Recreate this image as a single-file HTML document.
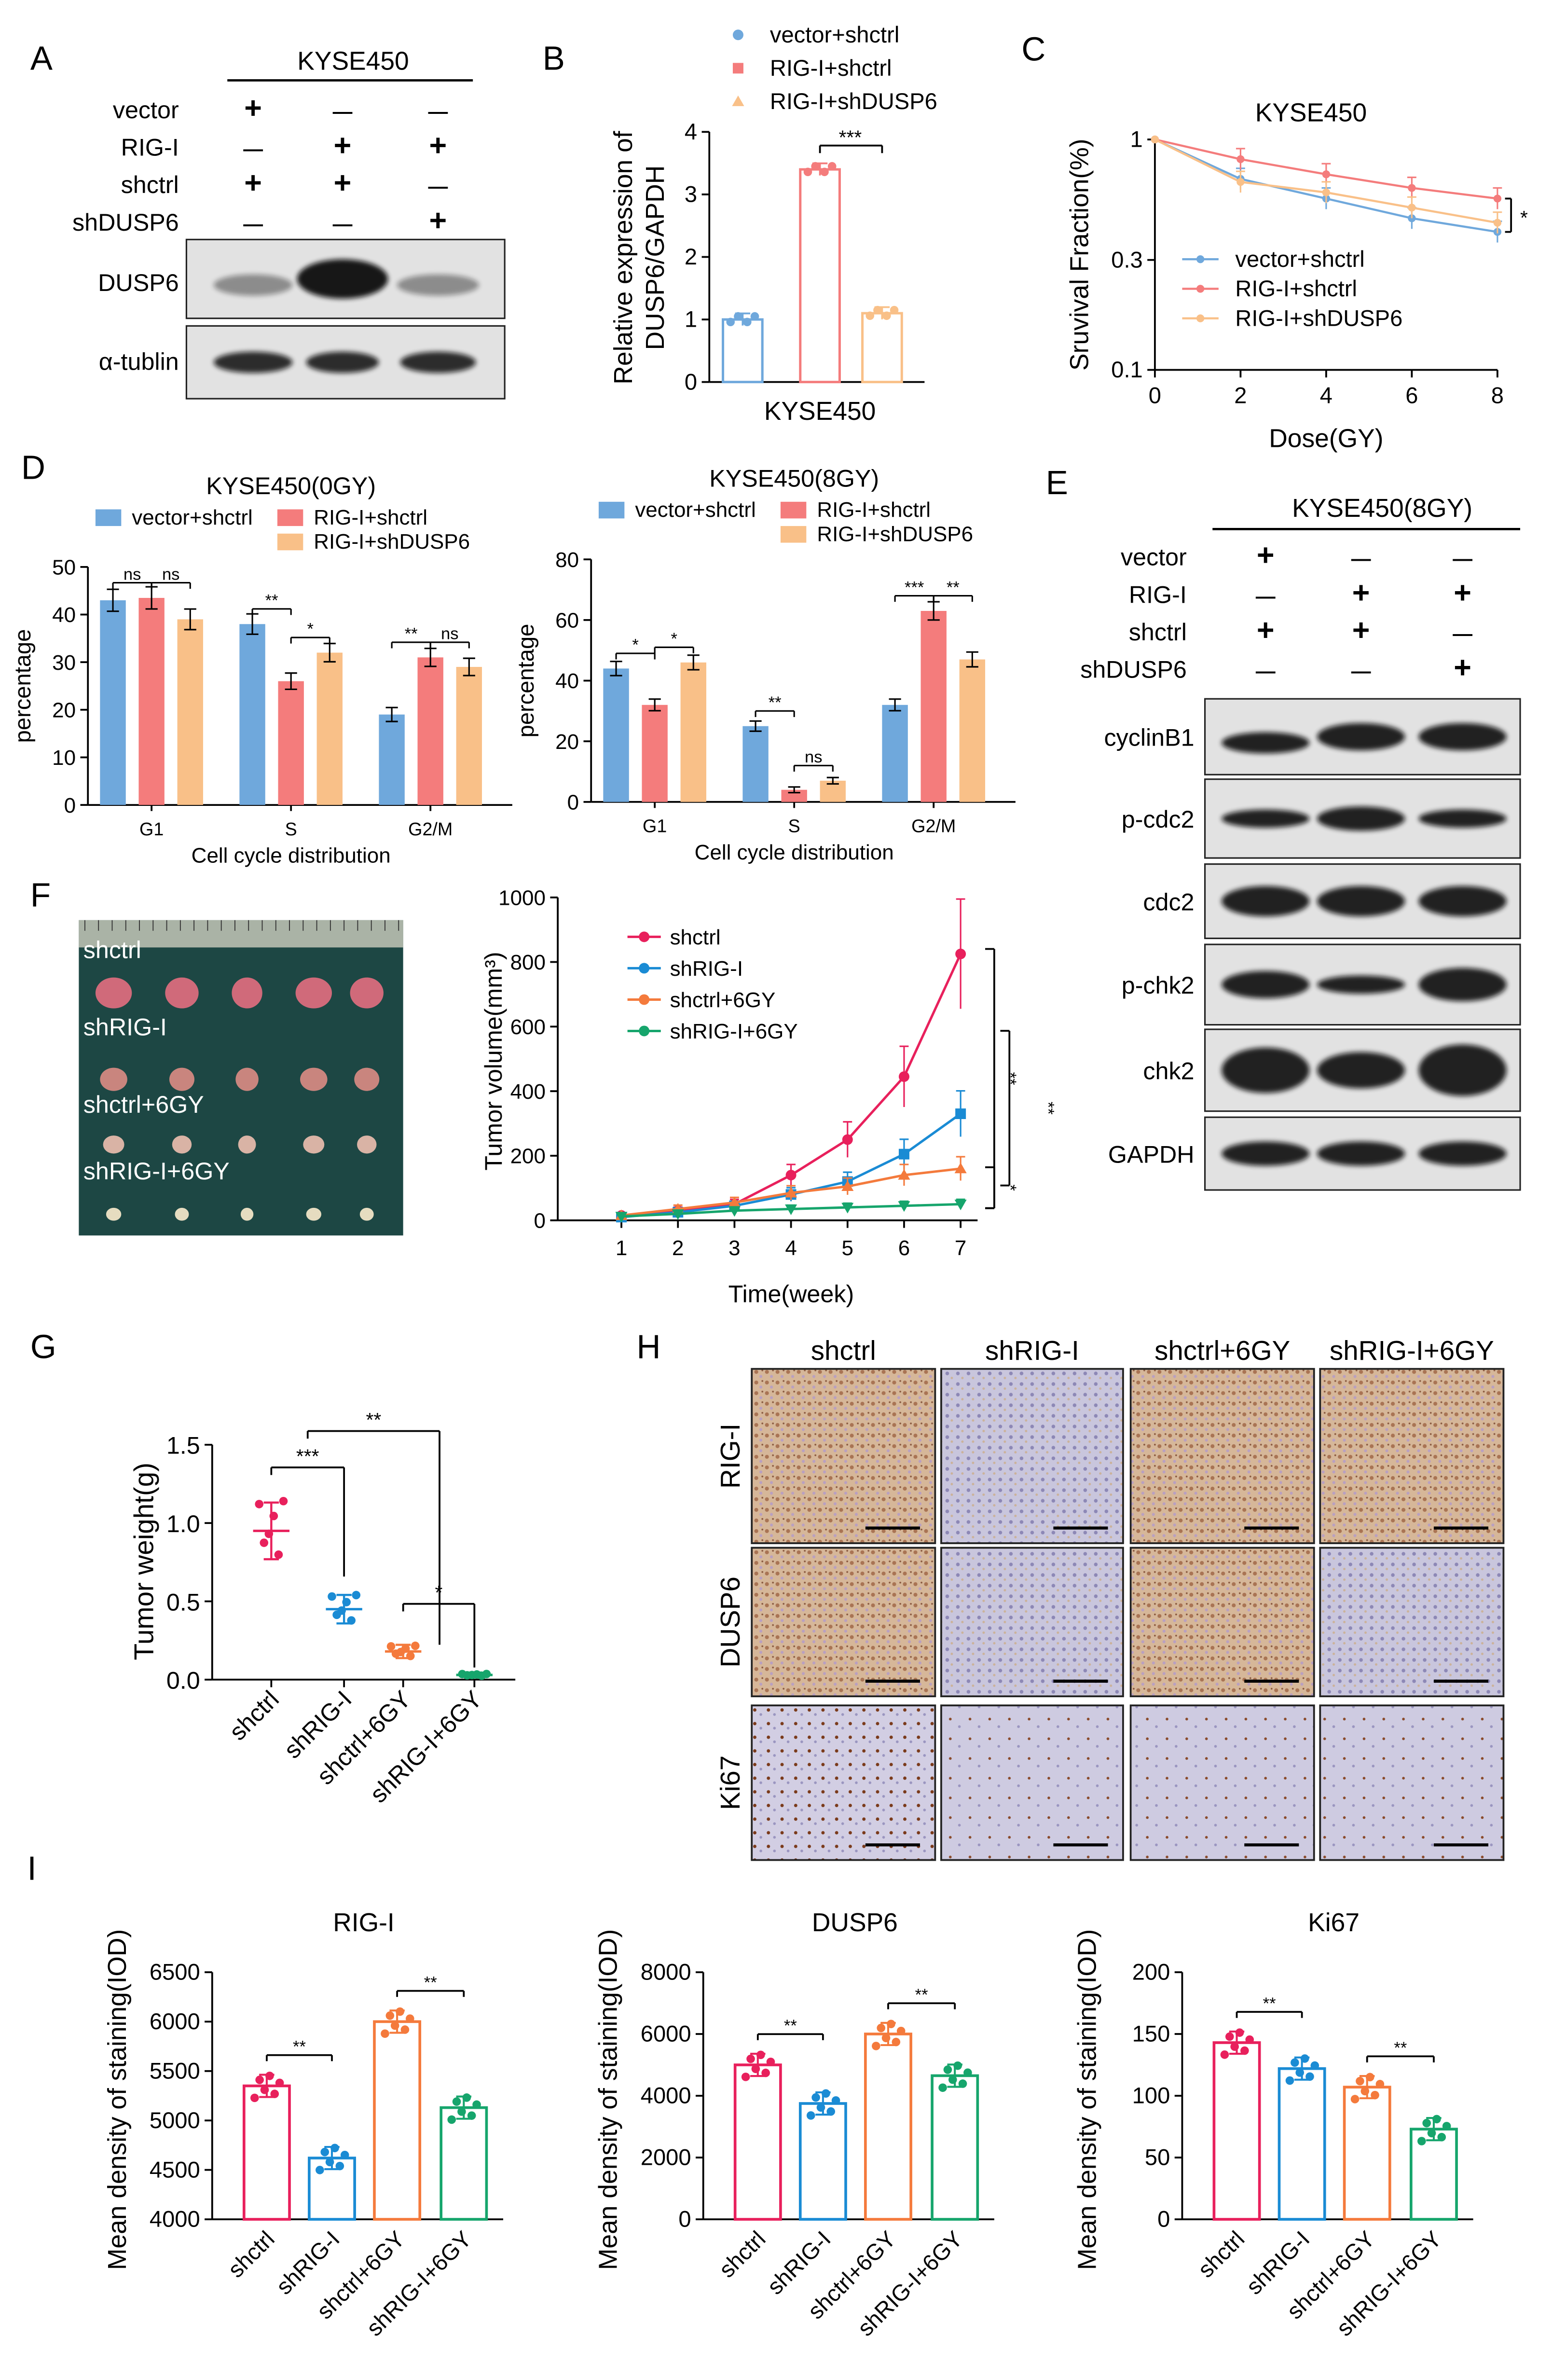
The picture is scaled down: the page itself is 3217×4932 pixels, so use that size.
<!DOCTYPE html>
<html><head><meta charset="utf-8">
<style>
html,body{margin:0;padding:0;background:#fff;}
svg{display:block;font-family:"Liberation Sans",Arial,sans-serif;}
</style></head>
<body>
<svg id="fig" width="3217" height="4932" viewBox="0 0 1024 1570" preserveAspectRatio="none" xmlns="http://www.w3.org/2000/svg">
<defs>
<filter id="soft" x="-20%" y="-50%" width="140%" height="200%"><feGaussianBlur stdDeviation="1.6"/></filter>
<pattern id="tissueBrown" width="7" height="7" patternUnits="userSpaceOnUse"><rect width="7" height="7" fill="#d6b799"/><circle cx="2" cy="2" r="1.3" fill="#a97454"/><circle cx="5" cy="5" r="1" fill="#b9a0c0"/><circle cx="6" cy="1" r="0.6" fill="#8a5a40"/></pattern>
<pattern id="tissueBlue" width="7" height="7" patternUnits="userSpaceOnUse"><rect width="7" height="7" fill="#c9c6dd"/><circle cx="2" cy="3" r="1.2" fill="#8d88b6"/><circle cx="5" cy="6" r="0.8" fill="#cbb29a"/></pattern>
<pattern id="tissueKi" width="9" height="9" patternUnits="userSpaceOnUse"><rect width="9" height="9" fill="#d2cee3"/><circle cx="3" cy="3" r="1.1" fill="#7a3a1a"/><circle cx="7" cy="6" r="0.9" fill="#9a95c0"/></pattern>
<pattern id="tissueKiLow" width="13" height="13" patternUnits="userSpaceOnUse"><rect width="13" height="13" fill="#cecbe1"/><circle cx="3" cy="3" r="0.9" fill="#8a4a2a"/><circle cx="9" cy="8" r="0.9" fill="#9a95c0"/></pattern>
</defs>
<g id="root"></g>
</svg>
<script>
const NS='http://www.w3.org/2000/svg';
const root=document.getElementById('root');
function el(tag,attrs,parent){const e=document.createElementNS(NS,tag);for(const k in attrs)e.setAttribute(k,attrs[k]);(parent||root).appendChild(e);return e;}
function tx(x,y,s,size,anchor,extra){const e=el('text',Object.assign({x:x,y:y,'font-size':size,'text-anchor':anchor||'start',fill:'#000'},extra||{}));e.textContent=s;return e;}
function ln(x1,y1,x2,y2,c,w){return el('line',{x1,y1,x2,y2,stroke:c||'#000','stroke-width':w||1.2});}

/* ---------- DATA ---------- */
const bCats=['vector+shctrl','RIG-I+shctrl','RIG-I+shDUSP6'];
const bVals=[1.0,3.4,1.1];
const cDoses=[0,2,4,6,8];
const cVector=[1,0.674,0.554,0.455,0.397];
const cRig=[1,0.821,0.706,0.616,0.554];
const cShd=[1,0.654,0.589,0.506,0.435];
const dPhases=['G1','S','G2/M'];
const d0Vector=[43,38,19];
const d0Rig=[43.5,26,31];
const d0Shd=[39,32,29];
const d8Vector=[44,25,32];
const d8Rig=[32,4,63];
const d8Shd=[46,7,47];
const fWeeks=[1,2,3,4,5,6,7];
const fShctrl=[15,30,50,140,250,445,825];
const fShrig=[10,25,45,80,120,205,330];
const fShctrl6=[15,35,55,85,105,140,160];
const fShrig6=[12,20,30,35,40,45,50];
const gGroups=['shctrl','shRIG-I','shctrl+6GY','shRIG-I+6GY'];
const gWeights=[0.95,0.45,0.18,0.03];
const iRig=[5350,4620,6000,5130];
const iDusp=[5000,3750,6000,4650];
const iKi=[143,122,107,73];
const C3=['#6fa8dc','#f47c7c','#f9c088'];
const C4=['#e8205c','#1a8bd4','#f47a3c','#16a56c'];

/* ---------- PANEL A ---------- */
let t;
t=tx(20,46,'A',22);
t=tx(233,46,'KYSE450',17,'middle');
ln(150,53,312,53,'#000',1.5);
const aRows=['vector','RIG-I','shctrl','shDUSP6'];
const aSigns=[['+','—','—'],['—','+','+'],['+','+','—'],['—','—','+']];
const aCols=[167,226,289];
aRows.forEach((r,i)=>{const y=78+i*24.7;t=tx(118,y,r,16,'end');
 aSigns[i].forEach((s,j)=>{t=tx(aCols[j],y,s,s==='+'?20:13,'middle',{'font-weight':'bold'});});});
function blot(x,y,w,h,name,bands){const g=el('g',{});
 el('rect',{x,y,width:w,height:h,fill:'#e2e2e2',stroke:'#222','stroke-width':1},g);
 bands.forEach(b=>{el('ellipse',{cx:b[0],cy:y+h/2+(b[3]||0),rx:b[1],ry:b[2],fill:'#111',opacity:b[4]||0.85,filter:'url(#soft)'},g);});return g;}
t=tx(118,192,'DUSP6',16,'end');
blot(123,158,210,52,'a-dusp6-blot',[[167,26,7,4,0.4],[226,30,13,0,0.95],[289,27,7,4,0.4]]);
t=tx(118,244,'α-tublin',16,'end');
blot(123,215,210,48,'a-tublin-blot',[[167,26,7],[226,24,7],[289,25,7]]);

/* ---------- PANEL B ---------- */
t=tx(358,46,'B',22);
bCats.forEach((c,i)=>{const y=23+i*22;
 if(i===0){const m=el('circle',{cx:487,cy:y,r:3.5,fill:C3[i]});}
 else if(i===1){const m=el('rect',{x:483.5,y:y-3.5,width:7,height:7,fill:C3[i]});}
 else{const m=el('polygon',{points:`487,${y-4} 491,${y+3} 483,${y+3}`,fill:C3[i]});}
 t=tx(508,y+5,c,15);});
const bY=v=>252-41.25*v, bX=[490,541,582];
ln(468,87,468,252);ln(468,252,610,252);
[0,1,2,3,4].forEach(v=>{ln(463,bY(v),468,bY(v));t=tx(460,bY(v)+5,String(v),15,'end');});
bVals.forEach((v,i)=>{const r=el('rect',{x:bX[i]-13,y:bY(v),width:26,height:252-bY(v),fill:'none',stroke:C3[i],'stroke-width':1.6});
 ln(bX[i],bY(v)-4,bX[i],bY(v)+4,C3[i],1.2);ln(bX[i]-5,bY(v)-4,bX[i]+5,bY(v)-4,C3[i]);
 [-8,-3,3,8].forEach((o,k)=>{el('circle',{cx:bX[i]+o,cy:bY(v+(k%2?0.05:-0.04)),r:2.8,fill:C3[i]});});});
ln(541,96,582,96);ln(541,96,541,101);ln(582,96,582,101);
t=tx(561,95,'***',13,'middle');
t=tx(541,277,'KYSE450',17,'middle');
t=tx(0,0,'Relative expression of',17,'middle',{transform:'translate(417,170) rotate(-90)'});
t=tx(0,0,'DUSP6/GAPDH',17,'middle',{transform:'translate(438,170) rotate(-90)'});

/* ---------- PANEL C ---------- */
t=tx(674,40,'C',22);
t=tx(865,80,'KYSE450',17,'middle');
const cX=d=>762+28.25*d, cY=v=>92-152*Math.log10(v);
ln(762,92,762,244);ln(762,244,988,244);
[[1,'1'],[0.3,'0.3'],[0.1,'0.1']].forEach(p=>{ln(757,cY(p[0]),762,cY(p[0]));t=tx(754,cY(p[0])+5,p[1],15,'end');});
cDoses.forEach(d=>{ln(cX(d),244,cX(d),249);t=tx(cX(d),266,String(d),15,'middle');});
[[cVector,C3[0],'vector+shctrl'],[cRig,C3[1],'RIG-I+shctrl'],[cShd,C3[2],'RIG-I+shDUSP6']].forEach((s,si)=>{
 const p=el('polyline',{points:s[0].map((v,i)=>cX(cDoses[i])+','+cY(v)).join(' '),fill:'none',stroke:s[1],'stroke-width':1.4});
 s[0].forEach((v,i)=>{if(i>0){ln(cX(cDoses[i]),cY(v)-7,cX(cDoses[i]),cY(v)+7,s[1],1);ln(cX(cDoses[i])-3,cY(v)-7,cX(cDoses[i])+3,cY(v)-7,s[1],1);}
  el('circle',{cx:cX(cDoses[i]),cy:cY(v),r:2.6,fill:s[1]});});
 const ly=171+si*19.5;ln(780,ly,804,ly,s[1],1.4);el('circle',{cx:792,cy:ly,r:2.6,fill:s[1]});
 t=tx(815,ly+5,s[2],15);});
ln(993,cY(0.554),997,cY(0.554));ln(997,cY(0.554),997,cY(0.397));ln(993,cY(0.397),997,cY(0.397));
tx(1003,148,'*',13);
t=tx(875,295,'Dose(GY)',17,'middle');
t=tx(0,0,'Sruvival Fraction(%)',17,'middle',{transform:'translate(718,168) rotate(-90)'});

/* ---------- PANEL D ---------- */
t=tx(14,316,'D',22);
function cellChart(ax,ytop,ybot,maxV,step,gx,vals,title,tag,sig){
 const Y=v=>ybot-(ybot-ytop)*v/maxV;
 t=tx(gx[1],ytop-48,title,16,'middle');
 const lx=[ax+5,ax+125,ax+125],lyy=[ytop-30,ytop-30,ytop-14];
 bCats.forEach((c,i)=>{const r=el('rect',{x:lx[i],y:lyy[i]-8,width:17,height:11,fill:C3[i]});
  t=tx(lx[i]+24,lyy[i]+2,c,14);});
 ln(ax,ytop,ax,ybot);ln(ax,ybot,ax+280,ybot);
 for(let v=0;v<=maxV;v+=step){ln(ax-5,Y(v),ax,Y(v));t=tx(ax-8,Y(v)+5,String(v),14,'end');}
 dPhases.forEach((p,g)=>{ln(gx[g],ybot,gx[g],ybot+4);t=tx(gx[g],ybot+20,p,12,'middle');
  vals.forEach((arr,s)=>{const cx=gx[g]+(s-1)*25.5;const r=el('rect',{x:cx-8.5,y:Y(arr[g]),width:17,height:ybot-Y(arr[g]),fill:C3[s]});
   const e=arr[g]*0.035+0.8;ln(cx,Y(arr[g]+e),cx,Y(Math.max(arr[g]-e,0)),'#000',1);ln(cx-4,Y(arr[g]+e),cx+4,Y(arr[g]+e),'#000',1);ln(cx-4,Y(Math.max(arr[g]-e,0)),cx+4,Y(Math.max(arr[g]-e,0)),'#000',1);});
  const y1=Y(Math.max(vals[0][g],vals[1][g]))-10, y2=Y(Math.max(vals[1][g],vals[2][g]))-10;
  [[gx[g]-25.5,gx[g],y1,sig[g][0]],[gx[g],gx[g]+25.5,y2,sig[g][1]]].forEach(b=>{ln(b[0],b[2],b[1],b[2],'#000',1);ln(b[0],b[2],b[0],b[2]+4,'#000',1);ln(b[1],b[2],b[1],b[2]+4,'#000',1);
   t=tx((b[0]+b[1])/2,b[2]-2,b[3],11,'middle');});});
 t=tx(gx[1],ybot+38,'Cell cycle distribution',14,'middle');
 t=tx(0,0,'percentage',15,'middle',{transform:`translate(${ax-38},${(ytop+ybot)/2}) rotate(-90)`});
}
cellChart(58,374,531,50,10,[100,192,284],[d0Vector,d0Rig,d0Shd],'KYSE450(0GY)','d0',[['ns','ns'],['**','*'],['**','ns']]);
cellChart(390,369,529,80,20,[432,524,616],[d8Vector,d8Rig,d8Shd],'KYSE450(8GY)','d8',[['*','*'],['**','ns'],['***','**']]);

/* ---------- PANEL E ---------- */
t=tx(690,326,'E',22);
t=tx(912,341,'KYSE450(8GY)',17,'middle');
ln(800,349,1003,349,'#000',1.5);
const eCols=[835,898,965];
aRows.forEach((r,i)=>{const y=373+i*24.7;t=tx(783,y,r,16,'end');
 aSigns[i].forEach((s,j)=>{t=tx(eCols[j],y,s,s==='+'?20:13,'middle',{'font-weight':'bold'});});});
const eBlots=[['cyclinB1',461,50,[7,9,9],[4,0,0]],['p-cdc2',514,52,[6,8,6]],['cdc2',570,49,[10,10,10]],['p-chk2',623,53,[9,6,11]],['chk2',679,54,[15,12,17]],['GAPDH',737,48,[8,8,8]]];
eBlots.forEach(b=>{t=tx(788,b[1]+b[2]/2+6,b[0],16,'end');
 blot(795,b[1],208,b[2],'e-'+b[0].toLowerCase()+'-blot',eCols.map((c,j)=>[c,29,b[3][j],(b[4]||[0,0,0])[j],0.9]));});

/* ---------- PANEL F ---------- */
t=tx(20,598,'F',22);
const photo=el('g',{});
el('rect',{x:52,y:607,width:214,height:208,fill:'#1d4744'},photo);
el('rect',{x:52,y:607,width:214,height:18,fill:'#aab3a6'},photo);
for(let i=0;i<24;i++)el('line',{x1:56+i*9,y1:607,x2:56+i*9,y2:614,stroke:'#333','stroke-width':0.6},photo);
const tumorRows=[[655,12,'#d06a7a'],[712,9,'#c9857e'],[755,7,'#d9b3a5'],[801,5,'#e6dcc0']];
const tumorX=[75,118,163,205,242];
tumorRows.forEach((r,i)=>tumorX.forEach((x,j)=>{el('ellipse',{cx:x+(j%2)*2,cy:r[0],rx:r[1]*(1-0.08*(j%3)),ry:r[1]*0.85,fill:r[2]},photo);}));
[['shctrl',55,632],['shRIG-I',55,683],['shctrl+6GY',55,734],['shRIG-I+6GY',55,778]].forEach(l=>{t=tx(l[1],l[2],l[0],16,'start',{fill:'#fff'});});

const fX=w=>410+37.3*(w-1), fY=v=>805-0.213*v;
ln(368,592,368,805);ln(368,805,645,805);
[0,200,400,600,800,1000].forEach(v=>{ln(363,fY(v),368,fY(v));t=tx(360,fY(v)+5,String(v),14,'end');});
fWeeks.forEach(w=>{ln(fX(w),805,fX(w),810);t=tx(fX(w),828,String(w),14,'middle');});
const fSeries=[[fShctrl,'shctrl'],[fShrig,'shRIG-I'],[fShctrl6,'shctrl+6GY'],[fShrig6,'shRIG-I+6GY']];
fSeries.forEach((s,si)=>{const c=C4[si];
 const p=el('polyline',{points:s[0].map((v,i)=>fX(fWeeks[i])+','+fY(v)).join(' '),fill:'none',stroke:c,'stroke-width':1.6});
 s[0].forEach((v,i)=>{const e=v*0.2+5;ln(fX(fWeeks[i]),fY(v+e),fX(fWeeks[i]),fY(Math.max(v-e,0)),c,1);ln(fX(fWeeks[i])-3,fY(v+e),fX(fWeeks[i])+3,fY(v+e),c,1);
  const m=si===0?el('circle',{cx:fX(fWeeks[i]),cy:fY(v),r:3.5,fill:c}):si===1?el('rect',{x:fX(fWeeks[i])-3.5,y:fY(v)-3.5,width:7,height:7,fill:c}):si===2?el('polygon',{points:`${fX(fWeeks[i])},${fY(v)-4} ${fX(fWeeks[i])+4},${fY(v)+3} ${fX(fWeeks[i])-4},${fY(v)+3}`,fill:c}):el('polygon',{points:`${fX(fWeeks[i])},${fY(v)+4} ${fX(fWeeks[i])+4},${fY(v)-3} ${fX(fWeeks[i])-4},${fY(v)-3}`,fill:c});
  });
 const ly=618+si*20.7;ln(414,ly,436,ly,c,1.6);el('circle',{cx:425,cy:ly,r:3.5,fill:c});
 t=tx(442,ly+5,s[1],14);});
[[650,626,797,'**',659],[660,680,782,'**',684],[650,770,797,'*',659]].forEach(b=>{ln(b[0],b[1],b[0]+6,b[1]);ln(b[0]+6,b[1],b[0]+6,b[2]);ln(b[0],b[2],b[0]+6,b[2]);
 t=tx(b[4]+4,(b[1]+b[2])/2,b[3],11,'middle',{transform:`rotate(90 ${b[4]+4} ${(b[1]+b[2])/2})`});});
t=tx(522,859,'Time(week)',16,'middle');
t=tx(0,0,'Tumor volume(mm³)',16,'middle',{transform:'translate(331,700) rotate(-90)'});

/* ---------- PANEL G ---------- */
t=tx(20,896,'G',22);
const gX=[179,227,266,313], gY=v=>1108-103.3*v;
ln(140,953,140,1108);ln(140,1108,340,1108);
[[0,'0.0'],[0.5,'0.5'],[1,'1.0'],[1.5,'1.5']].forEach(p=>{ln(135,gY(p[0]),140,gY(p[0]));t=tx(132,gY(p[0])+6,p[1],16,'end');});
gGroups.forEach((g,i)=>{const c=C4[i],v=gWeights[i];
 ln(gX[i],1108,gX[i],1113);
 t=tx(0,0,g,16,'end',{transform:`translate(${gX[i]+6},${1122}) rotate(-45)`});
 const sd=v*0.18+0.01;ln(gX[i],gY(v+sd),gX[i],gY(Math.max(v-sd,0)),c,1.4);ln(gX[i]-5,gY(v+sd),gX[i]+5,gY(v+sd),c,1.4);ln(gX[i]-5,gY(Math.max(v-sd,0)),gX[i]+5,gY(Math.max(v-sd,0)),c,1.4);
 ln(gX[i]-12,gY(v),gX[i]+12,gY(v),c,1.6);
 [-0.18,-0.08,0.02,0.1,0.16,0.2].forEach((o,k)=>{const m=el('circle',{cx:gX[i]-8+k*3.2,cy:gY(Math.max(v+v*o*(k%2?1:-1),0.01)),r:2.8,fill:c});});});
[[179,227,968,'***',0],[203,290,944,'**',0],[266,313,1058,'*',0]].forEach(b=>{ln(b[0],b[2],b[1],b[2]);ln(b[0],b[2],b[0],b[2]+5);ln(b[1],b[2],b[1],b[0]===179?1040:(b[0]===203?1085:1100));
 t=tx((b[0]+b[1])/2,b[2]-3,b[3],13,'middle');});
t=tx(0,0,'Tumor weight(g)',18,'middle',{transform:'translate(101,1030) rotate(-90)'});

/* ---------- PANEL H ---------- */
t=tx(420,896,'H',22);
const hCx=[[496,121],[621,120],[746,121],[871,121]];
const hRows=[['RIG-I',903,115,['tissueBrown','tissueBlue','tissueBrown','tissueBrown']],['DUSP6',1021,98,['tissueBrown','tissueBlue','tissueBrown','tissueBlue']],['Ki67',1125,102,['tissueKi','tissueKiLow','tissueKiLow','tissueKiLow']]];
gGroups.forEach((g,j)=>{t=tx(hCx[j][0]+hCx[j][1]/2,897,g,18,'middle');});
hRows.forEach(r=>{t=tx(0,0,r[0],18,'middle',{transform:`translate(488,${r[1]+r[2]/2}) rotate(-90)`});
 hCx.forEach((c,j)=>{const im=el('rect',{x:c[0],y:r[1],width:c[1],height:r[2],fill:`url(#${r[3][j]})`,stroke:'#222','stroke-width':1.2});
  ln(c[0]+c[1]-46,r[1]+r[2]-10,c[0]+c[1]-10,r[1]+r[2]-10,'#000',2);});});

/* ---------- PANEL I ---------- */
t=tx(18,1240,'I',22);
function iChart(ax,minV,maxV,step,vals,title,tag){
 const Y=v=>1464-163*(v-minV)/(maxV-minV), X=[ax+36,ax+79,ax+122,ax+166];
 t=tx(ax+100,1274,title,17,'middle');
 ln(ax,1301,ax,1464);ln(ax,1464,ax+192,1464);
 for(let v=minV;v<=maxV;v+=step){ln(ax-5,Y(v),ax,Y(v));t=tx(ax-8,Y(v)+5,String(v),15,'end');}
 vals.forEach((v,i)=>{const c=C4[i];
  const r=el('rect',{x:X[i]-15,y:Y(v),width:30,height:1464-Y(v),fill:'none',stroke:c,'stroke-width':1.8});
  const sd=(maxV-minV)*0.045;ln(X[i],Y(v+sd),X[i],Y(v-sd),c,1.3);ln(X[i]-5,Y(v+sd),X[i]+5,Y(v+sd),c,1.3);ln(X[i]-5,Y(v-sd),X[i]+5,Y(v-sd),c,1.3);
  [-1.2,0.6,-0.4,1,-0.8,0.3].forEach((o,k)=>{const m=el('circle',{cx:X[i]-8+k*3.3,cy:Y(v+o*sd*0.9),r:2.8,fill:c});});
  t=tx(0,0,gGroups[i],15,'end',{transform:`translate(${X[i]+6},1478) rotate(-45)`});});
 [[0,1],[2,3]].forEach(p=>{const y=Y(Math.max(vals[p[0]],vals[p[1]]))-Math.abs(163*0.1)-4;ln(X[p[0]],y,X[p[1]],y);ln(X[p[0]],y,X[p[0]],y+4);ln(X[p[1]],y,X[p[1]],y+4);
  t=tx((X[p[0]]+X[p[1]])/2,y-2,'**',11,'middle');});
 t=tx(0,0,'Mean density of staining(IOD)',17,'middle',{transform:`translate(${ax-57},1385) rotate(-90)`});
}
iChart(140,4000,6500,500,iRig,'RIG-I','i-rig');
iChart(464,0,8000,2000,iDusp,'DUSP6','i-dusp6');
iChart(780,0,200,50,iKi,'Ki67','i-ki67');
</script>
</body></html>
